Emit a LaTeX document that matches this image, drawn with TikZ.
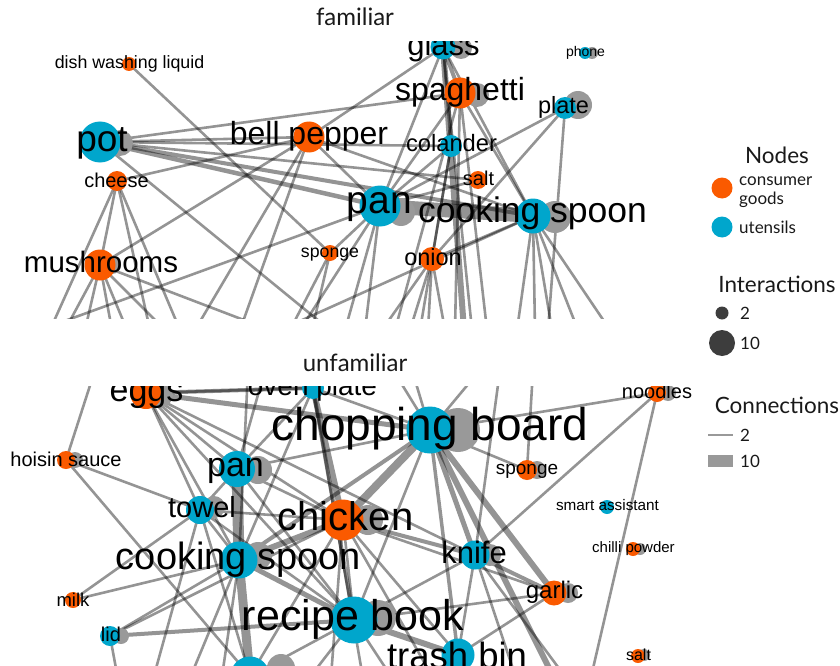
\documentclass[tikz,border=0pt]{standalone}
\usepackage{fontspec}
\setmainfont{Liberation Sans}
\newfontfamily\lgf{Lato}
\definecolor{og}{HTML}{FA5A00}
\definecolor{bl}{HTML}{00A6CC}
\definecolor{lgdark}{HTML}{3D3D3D}
\newcommand\fs[1]{\fontsize{#1pt}{#1pt}\selectfont}
\newcommand\lbl[5]{\node[lab,font=\fs{#4}] (#1) at (#2,{#3+0.25*#4}) {#5};}
\newcommand\nodec[4]{\node[circle,inner sep=0pt,minimum size=#3pt,fill=#4] (#1) at (#2) {};}
\newcommand\shd[4]{\node[circle,inner sep=0pt,minimum size=#4pt,fill=black!40] (#1) at (#2,#3) {};}
\begin{document}
\begin{tikzpicture}[x=1pt,y=-1pt,
  e/.style={draw=black,draw opacity=0.42,line width=2.6pt},
  lab/.style={anchor=base,inner sep=0pt,text=black},
  lgt/.style={anchor=base,inner sep=0pt,text=black!90,font=\lgf\fs{22.5}},
  ttl/.style={anchor=base,inner sep=0pt,text=black!90,font=\lgf\fs{24}},
  lgi/.style={anchor=base west,inner sep=0pt,text=black!90,font=\lgf\fs{17}}]
\useasboundingbox (0,0) rectangle (840,666);

% ---------------- familiar panel ----------------
\node[ttl] (t-fam) at (355,26) {familiar};
\begin{scope}
\clip (0,42) rectangle (705,318);
\coordinate (dish) at (129,64);
\coordinate (glass) at (443,47);
\coordinate (phone) at (585,53);
\coordinate (spag) at (460,93);
\coordinate (plate) at (565,108);
\coordinate (pot) at (100,142);
\coordinate (bell) at (309,137);
\coordinate (col) at (451,146);
\coordinate (salt) at (478,180);
\coordinate (cheese) at (117,181);
\coordinate (pan) at (380,206);
\coordinate (cs) at (533,216);
\coordinate (mush) at (100,265);
\coordinate (sponge) at (330,253);
\coordinate (onion) at (432,259);
\foreach \n/\x in {t1/330,t2/50,t3/150,t4/180,t5/65,t6/85,t7/112,t8/127,t9/165,t10/270,
  t11/195,t12/240,t13/290,t14/312,t15/300,t16/345,t17/365,t18/382,t19/410,t20/428,
  t21/445,t22/464,t23/472,t24/395,t25/455,t26/487,t27/420,t28/548,t29/517,t30/535,
  t31/552,t32/578,t33/610,t34/280,t35/40}
  \coordinate (\n) at (\x,330);
% edges
\foreach \a/\b in {pot/bell,pot/spag,pot/col,pot/salt,pot/t1,bell/glass,cheese/bell,
  cheese/mush,mush/bell,bell/pan,bell/cs,glass/col,glass/pan,glass/cs,spag/pan,spag/cs,
  plate/pan,plate/onion,col/pan,cs/onion,dish/sponge,cheese/t2,cheese/t3,cheese/t4,
  mush/t5,mush/t6,mush/t7,mush/t8,mush/t9,mush/t10,bell/t11,bell/t12,sponge/t13,
  sponge/t14,pan/t15,pan/t16,pan/t17,onion/t18,onion/t19,onion/t20,onion/t21,glass/t23,
  spag/t24,spag/t25,spag/t26,col/t27,plate/t28,cs/t29,cs/t30,cs/t31,cs/t32,cs/t33,
  cs/t34,pan/t35,salt/pan,col/onion,pan/sponge}
  \draw[e] (\a) -- (\b);
\draw[e,line width=4.5pt] (pot) -- (pan);
\draw[e,line width=4pt] (pot) -- (cs);
\draw[e,line width=4pt] (glass) -- (spag);
\draw[e,line width=6pt] (glass) -- (t22);
\draw[e,line width=14pt,line cap=round] (pan) -- (cs);
% loops / shadows
\shd{glass-g}{461}{48}{22}
\shd{phone-g}{592}{53}{12}
\shd{spag-g}{477}{95}{24}
\shd{plate-g}{578}{105}{28}
\shd{pot-g}{120}{143}{26}
\shd{pan-g}{401}{212}{28}
\shd{cs-g}{555}{217}{32}
\shd{mush-g}{112}{265}{18}
% nodes
\nodec{dish-c}{dish}{14}{og}
\nodec{glass-c}{glass}{25}{bl}
\nodec{phone-c}{phone}{12}{bl}
\nodec{spag-c}{spag}{31}{og}
\nodec{plate-c}{plate}{22}{bl}
\nodec{pot-c}{pot}{41}{bl}
\nodec{bell-c}{bell}{31}{og}
\nodec{col-c}{col}{22}{bl}
\nodec{salt-c}{salt}{18}{og}
\nodec{cheese-c}{cheese}{20}{og}
\nodec{pan-c}{pan}{41}{bl}
\nodec{cs-c}{cs}{35}{bl}
\nodec{mush-c}{mush}{31}{og}
\nodec{sponge-c}{sponge}{16}{og}
\nodec{onion-c}{onion}{24}{og}
% labels
\lbl{dish-l}{129.5}{64}{17.8}{dish washing liquid}
\lbl{glass-l}{443.5}{48}{31}{glass}
\lbl{phone-l}{585.5}{53}{14}{phone}
\lbl{spag-l}{460}{93}{32}{spaghetti}
\lbl{plate-l}{563.5}{108}{23.5}{plate}
\lbl{pot-l}{102}{142}{37}{pot}
\lbl{bell-l}{309}{136}{32}{bell pepper}
\lbl{col-l}{451.5}{146}{23.7}{colander}
\lbl{salt-l}{478.5}{180}{20}{salt}
\lbl{cheese-l}{116.5}{182}{20}{cheese}
\lbl{pan-l}{379.5}{204}{39}{pan}
\lbl{cs-l}{532.5}{214}{35.5}{cooking spoon}
\lbl{mush-l}{101}{265}{29.5}{mushrooms}
\lbl{sponge-l}{330}{253}{17.7}{sponge}
\lbl{onion-l}{433}{260}{23.5}{onion}
\end{scope}

% ---------------- unfamiliar panel ----------------
\node[ttl] (t-unf) at (355,371) {unfamiliar};
\begin{scope}
\clip (0,386) rectangle (705,666);
\coordinate (eggs) at (146,393);
\coordinate (oven) at (313,388);
\coordinate (cb) at (430,430);
\coordinate (nood) at (657,393);
\coordinate (hois) at (66,460);
\coordinate (bpan) at (237,469);
\coordinate (bsp) at (527,470);
\coordinate (towel) at (200,510);
\coordinate (chick) at (343,520);
\coordinate (smart) at (607,507);
\coordinate (bcs) at (239,560);
\coordinate (knife) at (475,555);
\coordinate (chilli) at (633,549);
\coordinate (garlic) at (554,593);
\coordinate (milk) at (73,600);
\coordinate (recipe) at (354,620);
\coordinate (lid) at (110,636);
\coordinate (trash) at (458,655);
\coordinate (bnode) at (250,676);
\coordinate (bsalt) at (638,656);
\foreach \n/\x in {u1/95,u2/248,u3/300,u4/393,u5/480,u6/500,u7/533,u8/265,u9/412}
  \coordinate (\n) at (\x,370);
\foreach \n/\x in {v1/120,v2/150,v3/185,v4/220,v5/300,v6/330,v7/400,v8/520,v9/560,
  v10/575,v11/588,v12/440,v13/365}
  \coordinate (\n) at (\x,690);
\foreach \a/\b in {eggs/bpan,eggs/towel,eggs/bcs,eggs/chick,eggs/recipe,eggs/knife,
  hois/u1,hois/towel,hois/bnode,milk/bcs,lid/bcs,lid/v1,bpan/oven,bpan/cb,bpan/chick,
  bpan/towel,bpan/recipe,bpan/u8,towel/bcs,towel/chick,towel/recipe,towel/bnode,towel/v2,
  oven/cb,oven/bcs,oven/u3,cb/recipe,cb/bsp,cb/nood,cb/u4,cb/u5,cb/u9,nood/knife,nood/v11,
  bsp/u7,chick/garlic,chick/recipe,chick/trash,chick/bnode,knife/recipe,knife/trash,
  knife/v8,knife/v10,knife/u6,garlic/recipe,garlic/trash,recipe/bnode,recipe/v5,
  bcs/v3,bcs/v4,u2/bcs,chick/v6,recipe/v7,chick/v12,oven/v13,eggs/oven,lid/chick,milk/towel}
  \draw[e] (\a) -- (\b);
\draw[e,line width=5pt] (eggs) -- (cb);
\draw[e,line width=4pt] (eggs) -- (oven);
\draw[e,line width=11pt] (bpan) -- (bcs);
\draw[e,line width=6pt] (oven) -- (chick);
\draw[e,line width=4pt] (oven) -- (recipe);
\draw[e,line width=8pt] (cb) -- (chick);
\draw[e,line width=5pt] (cb) -- (knife);
\draw[e,line width=6pt] (cb) -- (garlic);
\draw[e,line width=3.5pt] (cb) -- (trash);
\draw[e,line width=4pt] (cb) -- (bcs);
\draw[e,line width=6pt] (cb) -- (v9);
\draw[e,line width=4pt] (chick) -- (knife);
\draw[e,line width=6pt] (chick) -- (bcs);
\draw[e,line width=4pt] (knife) -- (garlic);
\draw[e,line width=6pt] (recipe) -- (trash);
\draw[e,line width=5pt] (recipe) -- (bcs);
\draw[e,line width=4pt] (lid) -- (recipe);
\draw[e,line width=9pt] (bcs) -- (bnode);
% loops / shadows
\shd{eggs-g}{161}{395}{24}
\shd{cb-g}{458}{430}{44}
\shd{nood-g}{668}{393}{16}
\shd{hois-g}{75}{460}{16}
\shd{bpan-g}{258}{470}{28}
\shd{bsp-g}{537}{470}{18}
\shd{towel-g}{214}{507}{22}
\shd{chick-g}{368}{520}{30}
\shd{bcs-g}{258}{556}{28}
\shd{knife-g}{490}{555}{22}
\shd{chilli-g}{640}{549}{12}
\shd{garlic-g}{568}{593}{20}
\shd{recipe-g}{378}{618}{36}
\shd{lid-g}{121}{636}{16}
\shd{bnode-g}{281}{668}{28}
\shd{bsalt-g}{644}{655}{12}
% nodes
\nodec{eggs-c}{eggs}{32}{og}
\nodec{oven-c}{oven}{22}{bl}
\nodec{cb-c}{cb}{47}{bl}
\nodec{nood-c}{nood}{18}{og}
\nodec{hois-c}{hois}{18}{og}
\nodec{bpan-c}{bpan}{36}{bl}
\nodec{bsp-c}{bsp}{20}{og}
\nodec{towel-c}{towel}{28}{bl}
\nodec{chick-c}{chick}{41}{og}
\nodec{smart-c}{smart}{14}{bl}
\nodec{bcs-c}{bcs}{37}{bl}
\nodec{knife-c}{knife}{29}{bl}
\nodec{chilli-c}{chilli}{14}{og}
\nodec{garlic-c}{garlic}{25}{og}
\nodec{milk-c}{milk}{16}{og}
\nodec{recipe-c}{recipe}{47}{bl}
\nodec{lid-c}{lid}{20}{bl}
\nodec{trash-c}{trash}{33}{bl}
\nodec{bnode-c}{bnode}{39}{bl}
\nodec{bsalt-c}{bsalt}{14}{og}
% labels
\lbl{eggs-l}{146.5}{393}{34}{eggs}
\lbl{oven-l}{312.5}{388}{28}{oven plate}
\lbl{cb-l}{430}{429}{46}{chopping board}
\lbl{nood-l}{657}{393}{20}{noodles}
\lbl{hois-l}{66}{461}{20}{hoisin sauce}
\lbl{bpan-l}{235.5}{468}{34}{pan}
\lbl{bsp-l}{527}{470}{19}{sponge}
\lbl{towel-l}{202}{510}{29}{towel}
\lbl{chick-l}{345.5}{520}{40}{chicken}
\lbl{smart-l}{607.5}{507}{15.3}{smart assistant}
\lbl{bcs-l}{238.5}{560}{38}{cooking spoon}
\lbl{knife-l}{474}{556}{31}{knife}
\lbl{chilli-l}{633.5}{549}{15}{chilli powder}
\lbl{garlic-l}{554.5}{592}{24}{garlic}
\lbl{milk-l}{73}{602}{18.5}{milk}
\lbl{recipe-l}{353}{620}{43}{recipe book}
\lbl{lid-l}{111}{636}{20}{lid}
\lbl{trash-l}{457}{659}{36.5}{trash bin}
\lbl{bsalt-l}{638.5}{656}{16}{salt}
\end{scope}

% ---------------- legend ----------------
\node[lgt] (lg-nodes) at (777,163) {Nodes};
\node[circle,inner sep=0pt,minimum size=21pt,fill=og] (lg-og) at (722,188) {};
\node[lgi] (lg-cg1) at (739,185) {consumer};
\node[lgi] (lg-cg2) at (739,204) {goods};
\node[circle,inner sep=0pt,minimum size=21pt,fill=bl] (lg-bl) at (722,227) {};
\node[lgi] (lg-ut) at (739,233) {utensils};
\node[lgt] (lg-int) at (777,292) {Interactions};
\node[circle,inner sep=0pt,minimum size=13pt,fill=lgdark] (lg-i2) at (722,313) {};
\node[lgi] (lg-i2t) at (740,319) {2};
\node[circle,inner sep=0pt,minimum size=26pt,fill=lgdark] (lg-i10) at (722,343) {};
\node[lgi] (lg-i10t) at (740,349) {10};
\node[lgt] (lg-con) at (777,413) {Connections};
\coordinate (lg-c2a) at (708,435);
\coordinate (lg-c2b) at (733,435);
\draw[draw=black!40,line width=2.2pt] (lg-c2a) -- (lg-c2b);
\node[lgi] (lg-c2t) at (740,441) {2};
\node[draw=none,fill=black!40,minimum width=25pt,minimum height=12pt,inner sep=0pt] (lg-c10) at (720.5,461) {};
\node[lgi] (lg-c10t) at (740,467) {10};
\end{tikzpicture}
\end{document}
